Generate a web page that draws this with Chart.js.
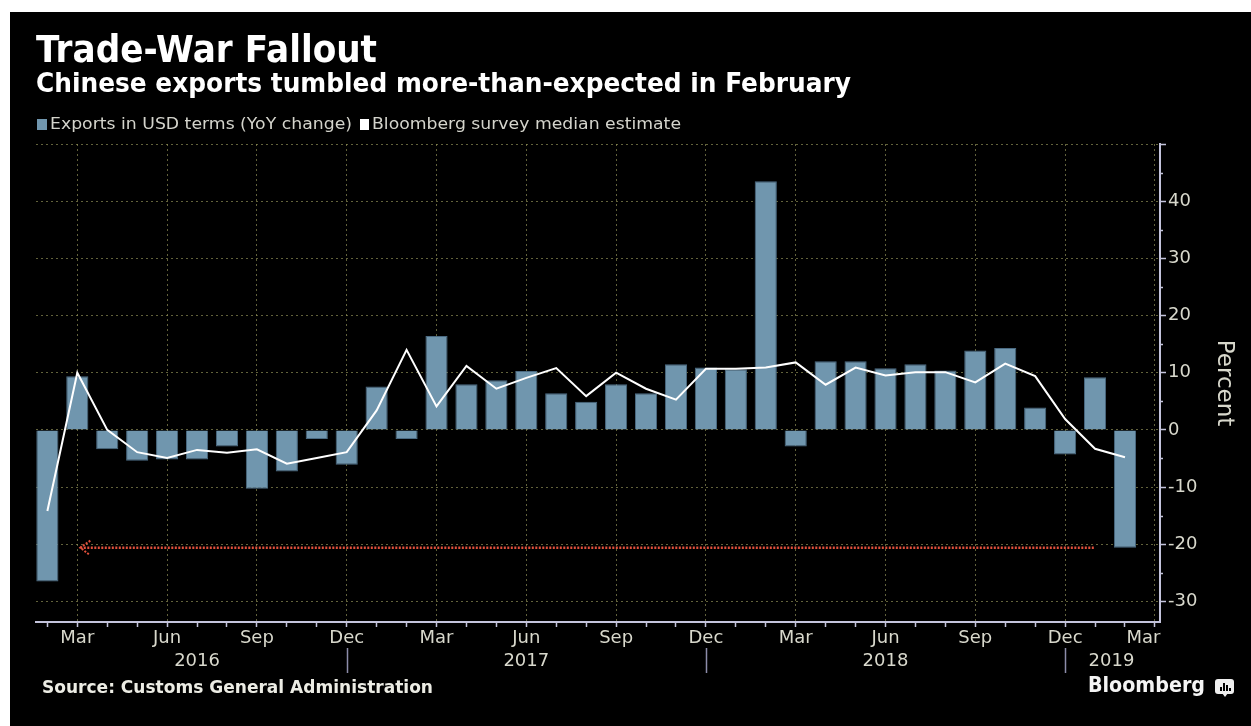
<!DOCTYPE html>
<html>
<head>
<meta charset="utf-8">
<script src="https://cdn.jsdelivr.net/npm/chart.js@4.4.1/dist/chart.umd.min.js"></script>
<style>
  html, body { margin: 0; padding: 0; background: #ffffff; width: 1251px; height: 726px; overflow: hidden; }
  #panel { position: absolute; left: 10px; top: 12px; width: 1241px; height: 714px; background: #000000; }
  #c { position: absolute; left: 0; top: 0; }
  .t { position: absolute; white-space: nowrap; display: inline-block; line-height: 1; transform-origin: left top; font-family: "DejaVu Sans", Verdana, sans-serif; }
  .sq { position: absolute; }
</style>
</head>
<body>
<div id="panel"></div>
<canvas id="c" width="1251" height="726"></canvas>

<div class="t" data-w="341" style="left:36px; top:31px; font-size:37px; font-weight:bold; color:#ffffff;">Trade-War Fallout</div>
<div class="t" data-w="815" style="left:36px; top:70px; font-size:26px; font-weight:bold; color:#ffffff;">Chinese exports tumbled more-than-expected in February</div>

<div class="sq" style="left:37px; top:119px; width:10px; height:11px; background:#7096ae;"></div>
<div class="t" data-w="302" style="left:50px; top:117px; font-size:15px; color:#d4d4cc;">Exports in USD terms (YoY change)</div>
<div class="sq" style="left:360px; top:119px; width:9px; height:11px; background:#ffffff;"></div>
<div class="t" data-w="309" style="left:372px; top:117px; font-size:15px; color:#d4d4cc;">Bloomberg survey median estimate</div>

<div class="t" data-w="391" style="left:42px; top:679px; font-size:17px; font-weight:bold; color:#ecece4;">Source: Customs General Administration</div>
<div class="t" data-w="117" style="left:1088px; top:675px; font-size:21px; font-weight:bold; color:#f4f4f4;">Bloomberg</div>
<div style="position:absolute; left:1215px; top:679px; width:19px; height:15px; background:#eeeeee; border-radius:3px;">
  <div style="position:absolute; left:5px; top:8px; width:2px; height:4px; background:#000;"></div>
  <div style="position:absolute; left:8px; top:4px; width:2px; height:8px; background:#000;"></div>
  <div style="position:absolute; left:11px; top:6px; width:2px; height:6px; background:#000;"></div>
  <div style="position:absolute; left:14px; top:9px; width:2px; height:3px; background:#000;"></div>
</div>
<div style="position:absolute; left:1222px; top:693px; width:0; height:0; border-left:3px solid transparent; border-right:3px solid transparent; border-top:4px solid #eeeeee;"></div>

<script>
// ---------------- DATA ----------------
const monthLabels = [
  'Feb 2016','Mar 2016','Apr 2016','May 2016','Jun 2016','Jul 2016','Aug 2016','Sep 2016','Oct 2016','Nov 2016','Dec 2016',
  'Jan 2017','Feb 2017','Mar 2017','Apr 2017','May 2017','Jun 2017','Jul 2017','Aug 2017','Sep 2017','Oct 2017','Nov 2017','Dec 2017',
  'Jan 2018','Feb 2018','Mar 2018','Apr 2018','May 2018','Jun 2018','Jul 2018','Aug 2018','Sep 2018','Oct 2018','Nov 2018','Dec 2018',
  'Jan 2019','Feb 2019','Mar 2019'
];
// Exports in USD terms (YoY change, %), Feb 2016 - Feb 2019
const exportsYoY = [
  -26.5, 9.4, -3.4, -5.4, -5.2, -5.2, -2.9, -10.3, -7.3, -1.6, -6.1,
  7.6, -1.6, 16.4, 8.0, 8.7, 10.3, 6.4, 4.9, 8.0, 6.4, 11.5, 10.9,
  10.6, 43.5, -2.9, 12.0, 12.0, 10.8, 11.5, 10.4, 13.9, 14.3, 3.9, -4.3,
  9.2, -20.6
];
// Bloomberg survey median estimate (%), Feb 2016 - Feb 2019
const surveyMedian = [
  -14.2, 10.0, 0.0, -3.9, -4.9, -3.5, -4.0, -3.4, -5.9, -4.9, -3.9,
  3.4, 14.0, 4.1, 11.2, 7.2, 9.1, 10.8, 5.9, 10.0, 7.2, 5.3, 10.7,
  10.7, 10.9, 11.8, 7.9, 10.9, 9.5, 10.1, 10.1, 8.3, 11.6, 9.4, 1.9,
  -3.3, -4.8
];
const yTicks = [-30, -20, -10, 0, 10, 20, 30, 40, 50];
const yMinorTicks = [-25, -15, -5, 5, 15, 25, 35, 45];
const quarterMonths = ['Mar', 'Jun', 'Sep', 'Dec'];
const yearLabels = ['2016', '2017', '2018', '2019'];
const yearLabelAt = [5, 16, 28, 35.55];      // month index where year label is centred
const yearSeparatorAt = [10, 22, 34];        // Dec positions
const refFrom = 1, refTo = 35;               // dotted reference line span (month index)

// ---------------- STYLE ----------------
const barColor = '#7096ae';
const barEdge = '#4b6b83';
const axisColor = '#c4c4dc';
const gridColor = 'rgba(150,150,90,0.65)';
const textColor = '#d8d8cc';
const redColor = '#e2503c';
const FONT = '"DejaVu Sans", Verdana, sans-serif';

const lastVal = exportsYoY[exportsYoY.length - 1];

const extras = {
  id: 'extras',
  afterDraw(chart) {
    const ctx = chart.ctx;
    const x = chart.scales.x, y = chart.scales.y;
    ctx.save();
    // minor ticks on right axis
    ctx.strokeStyle = axisColor;
    ctx.lineWidth = 1.5;
    yMinorTicks.forEach(v => {
      const py = Math.round(y.getPixelForValue(v)) + 0.5;
      ctx.beginPath();
      ctx.moveTo(chart.chartArea.right, py);
      ctx.lineTo(chart.chartArea.right + 3, py);
      ctx.stroke();
    });
    // year separators
    ctx.strokeStyle = '#8c8caa';
    ctx.lineWidth = 1.5;
    yearSeparatorAt.forEach(i => {
      const px = Math.round(x.getPixelForValue(i)) + 0.5;
      ctx.beginPath();
      ctx.moveTo(px, 648);
      ctx.lineTo(px, 673);
      ctx.stroke();
    });
    // year labels
    ctx.fillStyle = textColor;
    ctx.font = '18px ' + FONT;
    ctx.textAlign = 'center';
    ctx.textBaseline = 'middle';
    yearLabels.forEach((t, k) => {
      ctx.fillText(t, x.getPixelForValue(yearLabelAt[k]), 661);
    });
    // arrow head of the reference line
    const meta = chart.getDatasetMeta(2);
    const p0 = meta.data[0];
    if (p0) {
      ctx.strokeStyle = redColor;
      ctx.lineWidth = 2;
      ctx.setLineDash([2, 1.5]);
      ctx.beginPath();
      ctx.moveTo(p0.x + 10, p0.y - 7);
      ctx.lineTo(p0.x, p0.y);
      ctx.lineTo(p0.x + 9, p0.y + 7);
      ctx.stroke();
    }
    ctx.restore();
  }
};

new Chart(document.getElementById('c'), {
  type: 'bar',
  data: {
    datasets: [
      {
        type: 'bar',
        label: 'Exports in USD terms (YoY change)',
        data: exportsYoY.map((v, i) => ({ x: i, y: v })),
        backgroundColor: barColor,
        borderColor: barEdge,
        borderWidth: 1,
        barPercentage: 0.74,
        categoryPercentage: 1.0,
        order: 3
      },
      {
        type: 'line',
        label: 'Bloomberg survey median estimate',
        data: surveyMedian.map((v, i) => ({ x: i, y: v })),
        borderColor: '#ffffff',
        borderWidth: 2,
        pointRadius: 0,
        tension: 0,
        order: 1
      },
      {
        type: 'line',
        label: 'ref',
        data: [{ x: refFrom + 0.1, y: lastVal }, { x: refTo, y: lastVal }],
        borderColor: redColor,
        borderWidth: 2.5,
        borderDash: [2, 1.5],
        pointRadius: 0,
        order: 2
      }
    ]
  },
  options: {
    responsive: false,
    animation: false,
    devicePixelRatio: 1,
    layout: { padding: { left: 36, top: 144, right: 11, bottom: 64 } },
    plugins: { legend: { display: false }, tooltip: { enabled: false }, title: { display: false } },
    scales: {
      x: {
        type: 'linear',
        position: 'bottom',
        offset: false,
        min: -0.38,
        max: 37.17,
        afterBuildTicks: s => { s.ticks = monthLabels.map((_, i) => ({ value: i })); },
        afterFit: s => { s.height = 40; s.paddingLeft = 0; s.paddingRight = 0; },
        ticks: {
          autoSkip: false,
          maxRotation: 0,
          minRotation: 0,
          padding: 1,
          color: textColor,
          font: { family: FONT, size: 18 },
          callback: (v) => {
            const lab = monthLabels[v];
            if (!lab) return '';
            const m = lab.split(' ')[0];
            if (!quarterMonths.includes(m)) return '';
            return v === monthLabels.length - 1 ? m + '    ' : m;
          }
        },
        grid: {
          offset: false,
          color: ctx => {
            const lab = ctx.tick ? monthLabels[ctx.tick.value] : null;
            return lab && quarterMonths.includes(lab.split(' ')[0]) ? gridColor : 'rgba(0,0,0,0)';
          },
          lineWidth: 1,
          drawTicks: true,
          tickLength: 5,
          tickColor: axisColor,
          tickWidth: 1.5
        },
        border: { display: true, color: axisColor, width: 2, dash: [2, 3] }
      },
      y: {
        type: 'linear',
        position: 'right',
        min: -33.6,
        max: 50,
        afterBuildTicks: s => { s.ticks = yTicks.map(v => ({ value: v })); },
        afterFit: s => { s.width = 80; s.paddingTop = 0; s.paddingBottom = 0; },
        ticks: {
          color: textColor,
          padding: 2,
          font: { family: FONT, size: 18 },
          callback: v => (v === 50 ? '' : String(v))
        },
        grid: {
          color: gridColor,
          lineWidth: 1,
          drawTicks: true,
          tickLength: 6,
          tickColor: axisColor,
          tickWidth: 1.5
        },
        border: { display: true, color: axisColor, width: 2, dash: [2, 3] },
        title: {
          display: true,
          text: 'Percent',
          color: textColor,
          font: { family: FONT, size: 23 },
          padding: { top: 2, bottom: 0 }
        }
      }
    }
  },
  plugins: [extras]
});

// fit HTML texts to the reference widths
document.querySelectorAll('[data-w]').forEach(el => {
  const w = el.getBoundingClientRect().width;
  const t = +el.dataset.w;
  if (w > 0) el.style.transform = 'scaleX(' + (t / w) + ')';
});
</script>
</body>
</html>
